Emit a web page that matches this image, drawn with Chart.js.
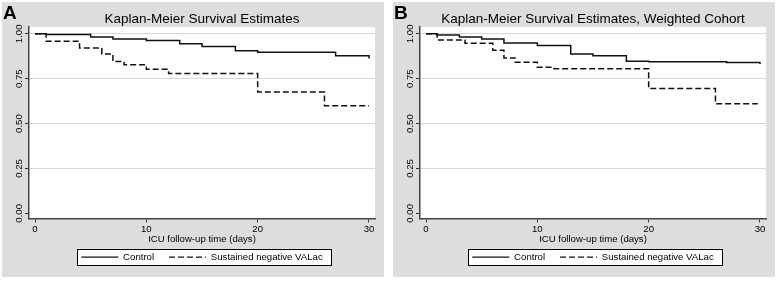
<!DOCTYPE html>
<html>
<head>
<meta charset="utf-8">
<script src="https://cdn.jsdelivr.net/npm/chart.js@4"></script>
<style>
  body { margin: 0; background: #fff; width: 778px; height: 281px; position: relative; overflow: hidden; }
  .panel { position: absolute; top: 2px; width: 382px; height: 275px; background: #dddddd; }
</style>
</head>
<body>
<div class="panel" style="left:2px"><canvas id="chartA" width="382" height="275"></canvas></div>
<div class="panel" style="left:393px"><canvas id="chartB" width="382" height="275"></canvas></div>
<script>
const seriesNames = ['Control', 'Sustained negative VALac'];
const panelLetters = ['A', 'B'];
const panelTitles = ['Kaplan-Meier Survival Estimates', 'Kaplan-Meier Survival Estimates, Weighted Cohort'];
const xTitle = 'ICU follow-up time (days)';
const xTicks = [0, 10, 20, 30];
const yTicks = [0, 0.25, 0.5, 0.75, 1];

// panel A
const ctrlTimeA = [0, 1, 5, 7, 10, 13, 15, 18, 20, 27, 30];
const ctrlSurvA = [1, 0.996, 0.983, 0.972, 0.963, 0.945, 0.93, 0.906, 0.897, 0.878, 0.862];
const valacTimeA = [0, 1, 4, 6, 7, 8, 10, 12, 20, 26, 30];
const valacSurvA = [1, 0.959, 0.921, 0.888, 0.846, 0.828, 0.803, 0.779, 0.676, 0.6, 0.6];

// panel B (weighted)
const ctrlTimeB = [0, 1, 3, 5, 7, 10, 13, 15, 18, 20, 27, 30];
const ctrlSurvB = [1, 0.993, 0.983, 0.972, 0.949, 0.935, 0.888, 0.878, 0.847, 0.845, 0.841, 0.832];
const valacTimeB = [0, 1, 3.5, 6, 7, 8, 10, 11.5, 20, 26, 29.8];
const valacSurvB = [1, 0.966, 0.948, 0.909, 0.866, 0.842, 0.814, 0.806, 0.695, 0.611, 0.611];

const FONT = 'Liberation Sans, Arial, Helvetica, sans-serif';
const SMALL = 9.6;

function pts(t, s) {
  return t.map((x, i) => ({ x: x, y: s[i] }));
}

const panelDeco = {
  id: 'panelDeco',
  beforeDraw(chart) {
    const c = chart.ctx, a = chart.chartArea;
    c.save();
    c.fillStyle = '#fff';
    c.fillRect(a.left, a.top, a.right - a.left, a.bottom - a.top);
    // legend frame
    const hb = chart.legend.legendHitBoxes;
    if (hb && hb.length) {
      const l = hb[0].left - 4;
      const r = hb[hb.length - 1].left + hb[hb.length - 1].width + 9;
      const t = hb[0].top - 3.5;
      const b = hb[0].top + hb[0].height + 3;
      c.fillStyle = '#fff';
      c.fillRect(l, t, r - l, b - t);
      c.strokeStyle = '#000';
      c.lineWidth = 1;
      c.strokeRect(Math.round(l) + 0.5, Math.round(t) + 0.5, Math.round(r - l), Math.round(b - t));
    }
    c.restore();
  },
  afterDraw(chart) {
    const c = chart.ctx;
    const ys = chart.scales.y;
    c.save();
    // rotated y tick labels
    c.fillStyle = '#000';
    c.font = SMALL + 'px ' + FONT;
    c.textAlign = 'center';
    c.textBaseline = 'middle';
    yTicks.forEach(v => {
      c.save();
      c.translate(ys.left - 6, ys.getPixelForValue(v));
      c.rotate(-Math.PI / 2);
      c.fillText(v.toFixed(2), 0, 0);
      c.restore();
    });
    // panel letter
    c.font = 'bold 19px ' + FONT;
    c.textAlign = 'left';
    c.textBaseline = 'alphabetic';
    c.fillText(chart.options.plugins.panelDeco.letter, 1, 17);
    c.restore();
  }
};

function legendLabels(chart) {
  const items = Chart.defaults.plugins.legend.labels.generateLabels(chart);
  items.forEach(it => {
    const ds = chart.data.datasets[it.datasetIndex];
    it.lineDash = ds.borderDash || [];
    it.lineWidth = 1.2;
  });
  return items;
}

function makeChart(id, idx, ctrlT, ctrlS, valT, valS) {
  return new Chart(document.getElementById(id), {
    type: 'line',
    data: {
      datasets: [{
        label: seriesNames[0],
        data: pts(ctrlT, ctrlS),
        borderColor: '#111',
        backgroundColor: '#111',
        borderWidth: 1.5,
        pointRadius: 0,
        stepped: 'before',
        fill: false
      }, {
        label: seriesNames[1],
        data: pts(valT, valS),
        borderColor: '#111',
        backgroundColor: '#111',
        borderWidth: 1.5,
        borderDash: [6, 3],
        pointRadius: 0,
        stepped: 'before',
        fill: false
      }]
    },
    options: {
      responsive: false,
      animation: false,
      layout: { padding: { left: 23, right: 9, top: 0, bottom: 5 } },
      plugins: {
        panelDeco: { letter: panelLetters[idx] },
        tooltip: { enabled: false },
        title: {
          display: true,
          text: panelTitles[idx],
          fullSize: false,
          color: '#000',
          font: { family: FONT, size: 13.5, weight: 'normal', lineHeight: 1.1 },
          padding: { top: 10, bottom: 0 }
        },
        legend: {
          position: 'bottom',
          fullSize: false,
          labels: {
            usePointStyle: true,
            pointStyle: 'line',
            pointStyleWidth: 37,
            color: '#000',
            font: { family: FONT, size: SMALL },
            padding: 15,
            generateLabels: legendLabels
          }
        }
      },
      scales: {
        x: {
          type: 'linear',
          min: -0.54,
          max: 30.54,
          afterBuildTicks: axis => { axis.ticks = xTicks.map(v => ({ value: v })); },
          grid: { drawOnChartArea: false, tickLength: 4, tickColor: '#333' },
          border: { color: '#444', width: 1.5 },
          ticks: { color: '#000', font: { family: FONT, size: SMALL }, padding: 1, maxRotation: 0 },
          title: {
            display: true,
            text: xTitle,
            color: '#000',
            font: { family: FONT, size: SMALL },
            padding: { top: -2, bottom: -8 }
          }
        },
        y: {
          min: -0.028,
          max: 1.039,
          afterBuildTicks: axis => { axis.ticks = yTicks.map(v => ({ value: v })); },
          grid: {
            color: ctx => (ctx.tick && ctx.tick.value === 0) ? 'rgba(0,0,0,0)' : '#d8d8d8',
            tickColor: '#333',
            tickLength: 4
          },
          border: { color: '#444', width: 1.5 },
          ticks: { display: false }
        }
      }
    },
    plugins: [panelDeco]
  });
}

makeChart('chartA', 0, ctrlTimeA, ctrlSurvA, valacTimeA, valacSurvA);
makeChart('chartB', 1, ctrlTimeB, ctrlSurvB, valacTimeB, valacSurvB);
</script>
</body>
</html>
